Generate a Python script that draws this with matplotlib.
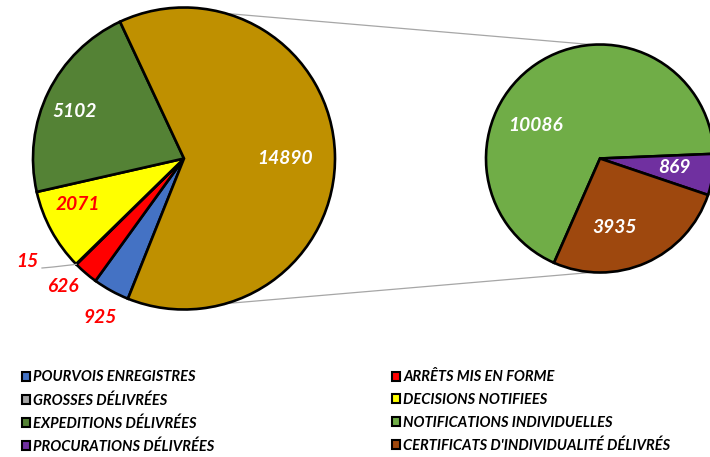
import numpy as np
import matplotlib.pyplot as plt
from matplotlib.patches import Patch

# data
main_labels = ['POURVOIS ENREGISTRES', 'ARRÊTS MIS EN FORME', 'GROSSES DÉLIVRÉES',
               'DECISIONS NOTIFIEES', 'EXPEDITIONS DÉLIVRÉES']
main_values = [925, 626, 15, 2071, 5102]
sub_labels = ['NOTIFICATIONS INDIVIDUELLES', 'PROCURATIONS DÉLIVRÉES',
              "CERTIFICATS D'INDIVIDUALITÉ DÉLIVRÉS"]
sub_values = [10086, 869, 3935]
other_value = sum(sub_values)

main_colors = ['#4472C4', '#FF0000', '#A5A5A5', '#FFFF00', '#548235']
other_color = '#BF9000'
sub_colors = ['#70AD47', '#7030A0', '#9E480E']

# layout (pixel units, figure is 710x457)
W, H = 710, 457
c1, r1 = (184, 298.5), 151
c2, r2 = (600, 298.5), 114
# label placement: (angle deg, radius fraction)
main_lab_pos = [(-117.8, 1.19), (-133.5, 1.17), (-146.6, 1.24), (-156.5, 0.77), (157, 0.79)]
other_lab_pos = (0, 0.67)
sub_lab_pos = [(152.7, 0.64), (-7.2, 0.66), (-77.8, 0.62)]
main_lab_colors = ['#FF0000', '#FF0000', '#FF0000', '#FF0000', 'white']

fam = ['Lato', 'DejaVu Sans']
fig = plt.figure(figsize=(7.1, 4.57), dpi=100)
ax = fig.add_axes([0, 0, 1, 1])

wp = dict(edgecolor='black', linewidth=1.9)
ax.pie(main_values + [other_value], colors=main_colors + [other_color],
       startangle=248.2, counterclock=False, center=c1, radius=r1,
       wedgeprops=wp, frame=True)
ax.pie(sub_values, colors=sub_colors, startangle=-113.8, counterclock=False,
       center=c2, radius=r2, wedgeprops=wp, frame=True)

ax.set_xlim(0, W)
ax.set_ylim(0, H)
ax.set_aspect('equal')
ax.axis('off')

def put(center, r, ang, frac, txt, color):
    a = np.radians(ang)
    ax.text(center[0] + frac * r * np.cos(a), center[1] + frac * r * np.sin(a), txt,
            ha='center', va='center', fontsize=13.8, fontweight='bold', fontstyle='italic',
            color=color, family=fam)

for (ang, frac), v, col in zip(main_lab_pos, main_values, main_lab_colors):
    put(c1, r1, ang, frac, str(v), col)
put(c1, r1, other_lab_pos[0], other_lab_pos[1], str(other_value), 'white')
for (ang, frac), v in zip(sub_lab_pos, sub_values):
    put(c2, r2, ang, frac, str(v), 'white')

# leader line for the tiny slice
edge_a = np.radians(-135.5)
ex, ey = c1[0] + r1 * np.cos(edge_a), c1[1] + r1 * np.sin(edge_a)
ax.plot([42, 53, ex], [189, 190, ey], color='#A6A6A6', lw=0.9, zorder=1)

# connector lines between the pies
for s in (1, -1):
    a1 = np.radians(73.9 * s)
    a2 = np.radians(93.5 * s)
    ax.plot([c1[0] + r1 * np.cos(a1), c2[0] + r2 * np.cos(a2)],
            [c1[1] + r1 * np.sin(a1), c2[1] + r2 * np.sin(a2)],
            color='#A6A6A6', lw=0.9, zorder=0)

# legend, two columns filled row by row
all_labels = main_labels + sub_labels
all_colors = main_colors + sub_colors
handles = [Patch(facecolor=c, edgecolor='black', linewidth=1.5) for c in all_colors]
cols = [[0, 2, 4, 6], [1, 3, 5, 7]]
xs = [15 / W, 385 / W]
for idx, x in zip(cols, xs):
    fig.legend([handles[i] for i in idx], [all_labels[i] for i in idx],
               loc='upper left', bbox_to_anchor=(x, 1 - 363 / H), frameon=False,
               borderpad=0, handlelength=0.5, handleheight=0.55, handletextpad=0.25,
               labelspacing=0.6,
               prop=dict(family=fam, size=10.5, weight='bold', style='italic'))

fig.savefig('out.png', dpi=100)
